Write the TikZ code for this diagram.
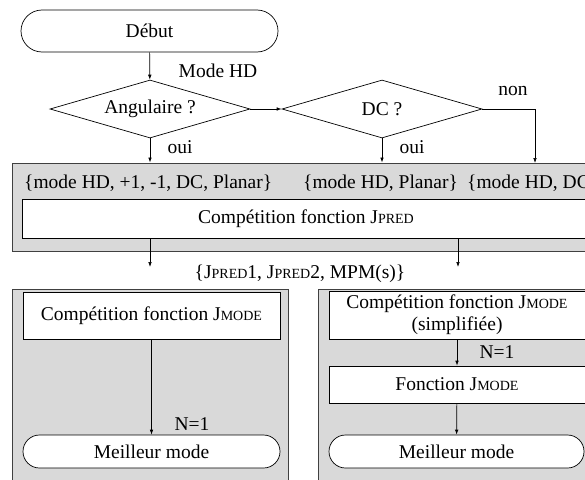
\documentclass[tikz,border=0pt]{standalone}
\usepackage{fontspec}
\setmainfont{Liberation Serif}
\usetikzlibrary{arrows.meta,shapes.geometric,shapes.misc}
\definecolor{ink}{HTML}{000000}
\definecolor{grpGray}{HTML}{D9D9D9}
\newcommand{\smc}[1]{{\fontsize{14}{14}\selectfont #1}}
\tikzset{
  term/.style={rounded rectangle, draw=ink, fill=white, line width=0.7pt, inner sep=0pt},
  decide/.style={diamond, draw=ink, fill=white, line width=0.7pt, inner sep=0pt, shape aspect=3.4, minimum width=200pt, minimum height=58pt},
  proc/.style={rectangle, draw=ink, fill=white, line width=0.7pt, inner sep=0pt, align=center},
  grp/.style={rectangle, draw=ink!75, fill=grpGray, line width=1pt, inner sep=0pt},
  lbl/.style={inner sep=0pt, text=ink},
  flow/.style={-{Latex[length=5pt,width=3.6pt]}, ink, line width=0.7pt},
}

\begin{document}
\begin{tikzpicture}[x=1pt, y=-1pt, font=\fontsize{19.5}{22}\selectfont]
\useasboundingbox (0,0) rectangle (585,479);
\clip (0,0) rectangle (585,479);
% top part
\node[term, minimum width=257pt, minimum height=42pt] (start) at (149.5,31) {Début};
\node[decide] (ang) at (150,109) {Angulaire ?};
\node[decide] (dc) at (382,109) {DC ?};
\node[lbl] (modehd) at (218,71) {Mode HD};
\node[lbl] (oui1) at (180,147) {oui};
\node[lbl] (oui2) at (412,147) {oui};
\node[lbl] (non) at (513,91) {non};
% JPRED block
\node[grp, minimum width=588pt, minimum height=88pt] (gpred) at (306,207) {};
\node[lbl, anchor=west] (setA) at (24,183) {\{mode HD, +1, -1, DC, Planar\}};
\node[lbl, anchor=west] (setB) at (303,183) {\{mode HD, Planar\}};
\node[lbl, anchor=west] (setC) at (467,183) {\{mode HD, DC\}};
\node[proc, minimum width=568pt, minimum height=39pt] (jpred) at (306,218.5) {Compétition fonction J\smc{PRED}};
\coordinate (nonend) at (535,163);
\coordinate (outL) at (150,267);
\coordinate (outR) at (458,267);
\node[lbl] (cand) at (300,274) {\{J\smc{PRED}1, J\smc{PRED}2, MPM(s)\}};
% JMODE blocks
\node[grp, minimum width=276pt, minimum height=211pt] (gleft) at (150,394.5) {};
\node[grp, minimum width=282pt, minimum height=211pt] (gright) at (459,394.5) {};
\node[proc, minimum width=257pt, minimum height=47pt] (jmodeL) at (151.5,315.5) {Compétition fonction J\smc{MODE}};
\node[term, minimum width=257pt, minimum height=33pt] (bestL) at (151.5,451.5) {Meilleur mode};
\node[lbl] (n1L) at (192,424) {N=1};
\node[proc, minimum width=256pt, minimum height=48pt] (jmodeR) at (457,315) {Compétition fonction J\smc{MODE}\\(simplifiée)};
\node[proc, minimum width=256pt, minimum height=37pt] (fctR) at (457,384.5) {Fonction J\smc{MODE}};
\node[term, minimum width=255pt, minimum height=33pt] (bestR) at (456.5,451.5) {Meilleur mode};
\node[lbl] (n1R) at (497,352) {N=1};
% connectors
\draw[flow] (start) -- (ang);
\draw[flow] (ang) -- (dc);
\draw[flow] (ang) -- (ang |- gpred.north);
\draw[flow] (dc) -- (dc |- gpred.north);
\draw[flow] (dc.east) -| (nonend);
\draw[flow] (jpred.south -| outL) -- (outL);
\draw[flow] (jpred.south -| outR) -- (outR);
\draw[flow] (jmodeL) -- (bestL);
\draw[flow] (jmodeR) -- (fctR);
\draw[flow] (fctR) -- (bestR);
\end{tikzpicture}
\end{document}
